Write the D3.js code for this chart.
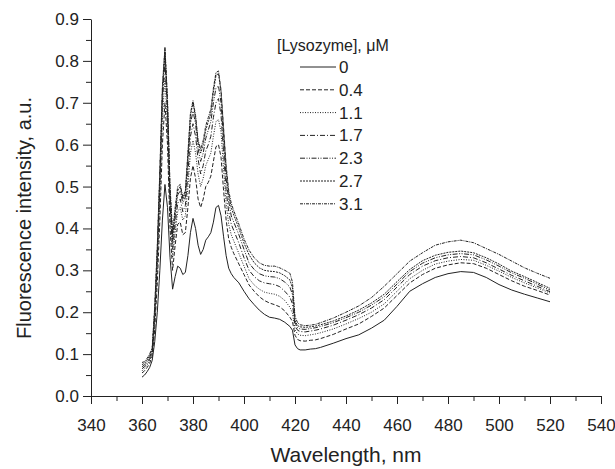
<!DOCTYPE html>
<html>
<head>
<meta charset="utf-8">
<script src="https://cdn.jsdelivr.net/npm/d3@7"></script>
<style>
  body { margin: 0; background: #fff; }
  svg { display: block; font-family: "Liberation Sans", Arial, sans-serif; }
  .axis path, .axis line { stroke: #222; stroke-width: 1; }
  .axis text { font-size: 17px; fill: #222; }
</style>
</head>
<body>
<svg id="chart" width="615" height="469"></svg>
<script>
// wavelength grid, nm
var wavelength = [360,361,362,363,364,365,366,367,368,369,370,371,372,373,374,375,376,377,378,379,
  380,381,382,383,384,385,386,387,388,389,390,391,392,393,394,395,396,398,400,402,404,406,408,410,
  412,414,416,418,419,420,421,422,424,426,428,430,435,440,445,450,455,460,465,470,475,480,485,490,
  495,500,505,510,515,520];

// lysozyme concentrations, uM
var concentrations = ["0", "0.4", "1.1", "1.7", "2.3", "2.7", "3.1"];

var s00 = [.045,.05,.058,.068,.085,.13,.20,.30,.42,.505,.45,.33,.255,.285,.31,.305,.29,.295,.335,.39,
  .424,.40,.36,.338,.35,.372,.38,.39,.415,.45,.455,.43,.38,.335,.305,.292,.283,.27,.25,.232,.218,.205,.195,.188,
  .186,.183,.176,.166,.157,.122,.113,.11,.11,.112,.113,.116,.126,.137,.146,.162,.181,.214,.25,.268,.283,.292,.297,.295,
  .283,.266,.253,.243,.234,.225];
var s04 = [.055,.06,.068,.078,.095,.16,.27,.42,.60,.70,.60,.40,.30,.36,.41,.415,.385,.39,.45,.52,
  .55,.52,.47,.45,.47,.50,.51,.525,.56,.595,.60,.57,.49,.42,.375,.355,.34,.315,.29,.265,.25,.237,.228,.222,
  .218,.213,.203,.188,.178,.145,.135,.132,.131,.133,.134,.137,.147,.16,.172,.19,.21,.24,.27,.29,.305,.313,.318,.316,
  .305,.29,.275,.262,.252,.241];
var s11 = [.06,.066,.074,.084,.10,.18,.31,.47,.66,.76,.64,.44,.33,.39,.44,.45,.42,.43,.50,.58,
  .61,.58,.53,.50,.52,.55,.565,.58,.62,.655,.66,.63,.54,.46,.41,.385,.37,.34,.31,.28,.265,.255,.248,.245,
  .243,.238,.228,.212,.198,.158,.148,.145,.144,.146,.148,.151,.16,.172,.185,.20,.22,.25,.28,.30,.315,.322,.326,.324,
  .312,.298,.283,.27,.258,.246];
var s17 = [.065,.07,.078,.088,.105,.19,.33,.50,.70,.80,.67,.46,.35,.41,.46,.47,.44,.455,.53,.62,
  .65,.62,.565,.53,.55,.585,.60,.62,.665,.70,.71,.67,.58,.49,.44,.41,.395,.365,.33,.30,.285,.275,.27,.268,
  .266,.261,.25,.236,.22,.168,.157,.154,.153,.155,.157,.16,.169,.181,.194,.21,.23,.26,.29,.31,.323,.33,.333,.33,
  .318,.303,.288,.275,.262,.249];
var s23 = [.07,.074,.082,.092,.108,.20,.34,.52,.72,.82,.69,.48,.37,.43,.48,.49,.46,.475,.56,.65,
  .68,.65,.59,.56,.58,.615,.635,.655,.70,.735,.74,.70,.61,.52,.465,.43,.415,.385,.35,.317,.302,.292,.287,.285,
  .284,.28,.272,.26,.242,.175,.163,.16,.159,.161,.163,.166,.175,.187,.20,.217,.237,.267,.297,.317,.33,.337,.34,.337,
  .325,.31,.294,.281,.267,.253];
var s27 = [.075,.078,.086,.096,.112,.21,.35,.53,.73,.83,.70,.49,.38,.44,.49,.50,.47,.485,.575,.67,
  .70,.665,.605,.58,.60,.635,.655,.675,.725,.765,.77,.725,.63,.54,.48,.45,.432,.40,.365,.337,.318,.306,.30,.298,
  .297,.294,.287,.277,.258,.18,.168,.165,.164,.165,.167,.17,.179,.191,.205,.222,.243,.273,.302,.323,.336,.343,.346,.342,
  .33,.315,.298,.285,.271,.257];
var s31 = [.08,.082,.09,.10,.115,.215,.36,.54,.74,.832,.71,.50,.39,.45,.50,.505,.475,.49,.58,.675,
  .705,.67,.61,.59,.61,.645,.665,.685,.735,.772,.776,.73,.64,.55,.49,.46,.442,.41,.375,.348,.33,.318,.312,.31,
  .31,.306,.30,.293,.272,.19,.175,.17,.168,.169,.171,.175,.186,.20,.215,.235,.262,.292,.322,.342,.36,.368,.372,.366,
  .352,.338,.322,.306,.293,.281];

var seriesValues = [s00, s04, s11, s17, s23, s27, s31];
var dashes = ["none", "4,2", "1,1.5", "5,2,1,2", "5,1.5,1,1.5,1,1.5", "2,1", "3,1,1,1"];

var xTicks = d3.range(340, 541, 20);
var xMinor = d3.range(350, 540, 20);
var yTicks = d3.range(0, 10).map(i => i / 10);
var yMinor = d3.range(0, 9).map(i => i / 10 + 0.05);

var svg = d3.select("#chart");
var x = d3.scaleLinear().domain([340, 540]).range([91, 601]);
var y = d3.scaleLinear().domain([0, 0.9]).range([396, 19]);

// minor ticks first
svg.append("g")
  .attr("class", "axis")
  .attr("transform", "translate(0,396)")
  .call(d3.axisBottom(x).tickValues(xMinor).tickSize(5).tickFormat(""))
  .call(g => g.select(".domain").remove());
svg.append("g")
  .attr("class", "axis")
  .attr("transform", "translate(91,0)")
  .call(d3.axisLeft(y).tickValues(yMinor).tickSize(5).tickFormat(""))
  .call(g => g.select(".domain").remove());

svg.append("g")
  .attr("class", "axis")
  .attr("transform", "translate(0,396)")
  .call(d3.axisBottom(x).tickValues(xTicks).tickSize(8).tickSizeOuter(0).tickPadding(15));
svg.append("g")
  .attr("class", "axis")
  .attr("transform", "translate(91,0)")
  .call(d3.axisLeft(y).tickValues(yTicks).tickSize(8).tickSizeOuter(0).tickPadding(4)
    .tickFormat(d3.format(".1f")));

var line = d3.line()
  .x((d, i) => x(wavelength[i]))
  .y(d => y(d));

svg.append("g")
  .selectAll("path")
  .data(seriesValues)
  .join("path")
  .attr("d", d => line(d))
  .attr("fill", "none")
  .attr("stroke", "#222")
  .attr("stroke-width", 1)
  .attr("stroke-dasharray", (d, i) => dashes[i]);

// legend
var legend = svg.append("g").attr("font-size", "17px").attr("fill", "#222");
legend.append("text")
  .attr("x", 277)
  .attr("y", 51)
  .attr("font-size", "16px")
  .text("[Lysozyme], \u03bcM");
var entries = legend.selectAll("g.entry")
  .data(concentrations)
  .join("g")
  .attr("class", "entry")
  .attr("transform", (d, i) => "translate(0," + (67 + 22.8 * i) + ")");
entries.append("line")
  .attr("x1", 300).attr("x2", 336)
  .attr("stroke", "#222")
  .attr("stroke-width", 1)
  .attr("stroke-dasharray", (d, i) => dashes[i]);
entries.append("text")
  .attr("x", 339)
  .attr("y", 6)
  .text(d => d);

// axis titles
svg.append("text")
  .attr("x", 346)
  .attr("y", 462)
  .attr("text-anchor", "middle")
  .attr("font-size", "21px")
  .attr("fill", "#222")
  .text("Wavelength, nm");
svg.append("text")
  .attr("transform", "translate(31,218) rotate(-90)")
  .attr("text-anchor", "middle")
  .attr("font-size", "20px")
  .attr("fill", "#222")
  .text("Fluorescence intensity, a.u.");
</script>
</body>
</html>
